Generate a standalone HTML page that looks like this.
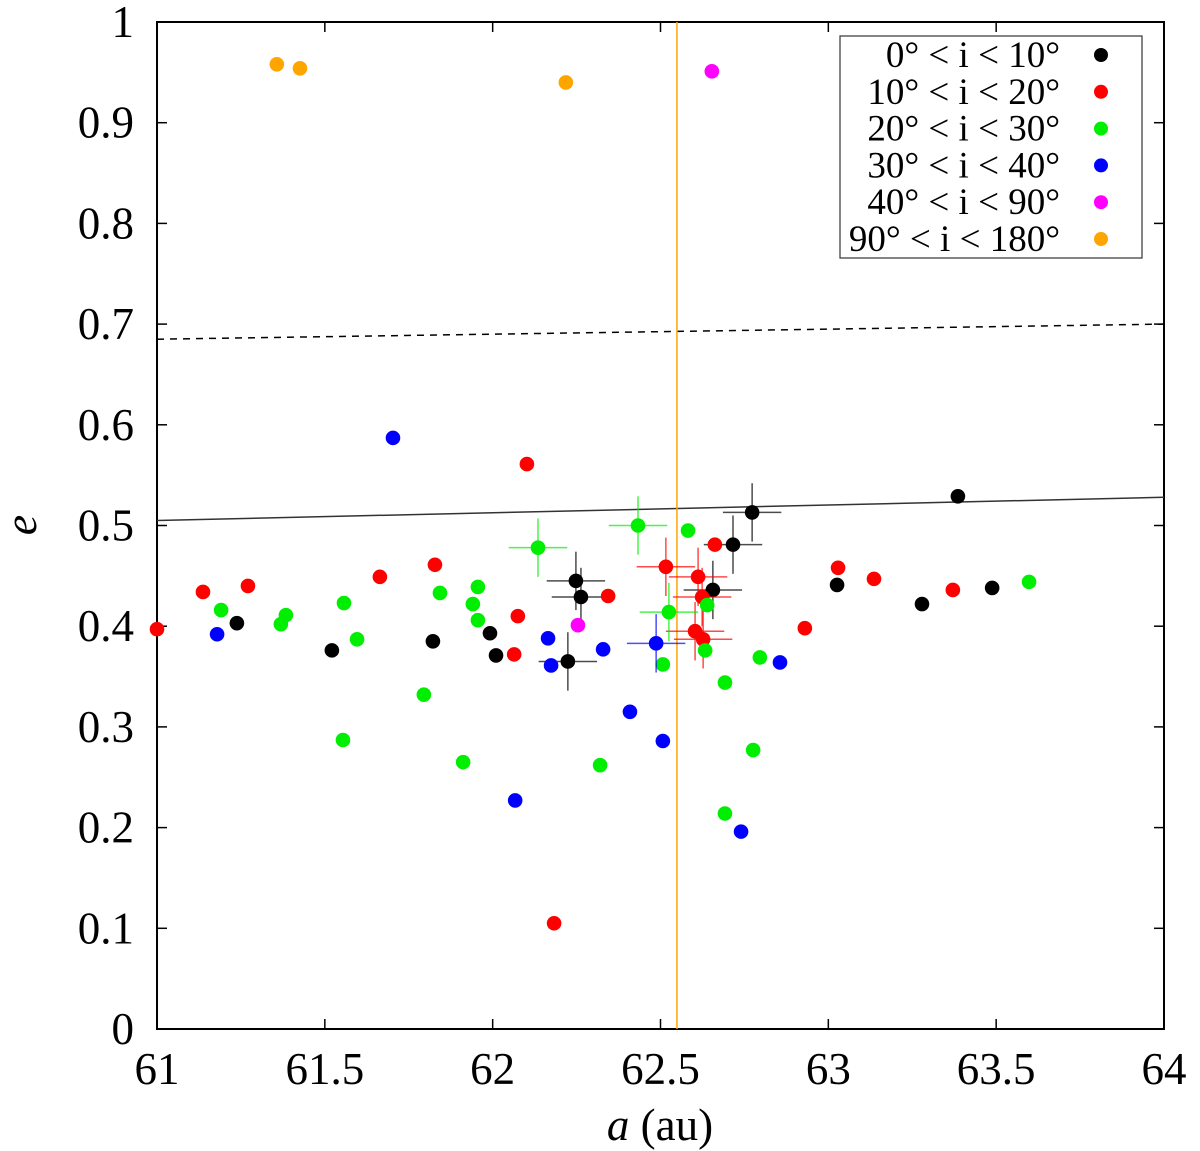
<!DOCTYPE html>
<html><head><meta charset="utf-8"><style>
body{margin:0;background:#fff}
svg{display:block;font-family:"Liberation Serif",serif}
</style></head><body>
<svg id="chart" width="1200" height="1151">
<rect width="1200" height="1151" fill="#fff"/>
<g id="grid"></g>
<g id="marks"></g>
<g id="legend"></g>
</svg>
<script>
const xTicks=[61,61.5,62,62.5,63,63.5,64];
const xTickLabels=["61","61.5","62","62.5","63","63.5","64"];
const yTicks=[0,0.1,0.2,0.3,0.4,0.5,0.6,0.7,0.8,0.9,1];
const yTickLabels=["0","0.1","0.2","0.3","0.4","0.5","0.6","0.7","0.8","0.9","1"];
const seriesNames=["0° < i < 10°","10° < i < 20°","20° < i < 30°","30° < i < 40°","40° < i < 90°","90° < i < 180°"];
const seriesColors=["#000000","#ff0000","#00ee00","#0000ff","#ff00ff","#ffa500"];
const blackA=[61.238,61.521,61.822,61.992,62.010,62.248,62.263,62.224,62.656,62.716,62.773,63.026,63.279,63.386,63.488];
const blackE=[0.403,0.376,0.385,0.393,0.371,0.445,0.429,0.365,0.436,0.481,0.513,0.441,0.422,0.529,0.438];
const blackErr=[0,0,0,0,0,1,1,1,1,1,1,0,0,0,0];
const redA=[61.000,61.137,61.271,61.664,61.828,62.064,62.075,62.102,62.344,62.183,62.516,62.612,62.624,62.662,62.603,62.627,62.930,63.029,63.136,63.371];
const redE=[0.397,0.434,0.440,0.449,0.461,0.372,0.410,0.561,0.430,0.105,0.459,0.449,0.429,0.481,0.395,0.387,0.398,0.458,0.447,0.436];
const redErr=[0,0,0,0,0,0,0,0,0,0,1,1,1,0,1,1,0,0,0,0];
const greenA=[61.191,61.369,61.384,61.557,61.554,61.596,61.795,61.843,61.912,61.941,61.956,61.956,62.135,62.320,62.433,62.507,62.525,62.582,62.633,62.639,62.692,62.692,62.776,62.796,63.598];
const greenE=[0.416,0.402,0.411,0.423,0.287,0.387,0.332,0.433,0.265,0.422,0.439,0.406,0.478,0.262,0.500,0.362,0.414,0.495,0.376,0.421,0.344,0.214,0.277,0.369,0.444];
const greenErr=[0,0,0,0,0,0,0,0,0,0,0,0,1,0,1,0,1,0,0,0,0,0,0,0,0];
const blueA=[61.179,61.703,62.067,62.165,62.174,62.329,62.409,62.487,62.507,62.740,62.856];
const blueE=[0.392,0.587,0.227,0.388,0.361,0.377,0.315,0.383,0.286,0.196,0.364];
const blueErr=[0,0,0,0,0,0,0,1,0,0,0];
const magentaA=[62.254,62.653];
const magentaE=[0.401,0.951];
const magentaErr=[0,0];
const orangeA=[61.357,61.426,62.218];
const orangeE=[0.958,0.954,0.940];
const orangeErr=[0,0,0];
const xErrVal=0.087, yErrVal=0.029;
const dashedLineA=[61,64], dashedLineE=[0.685,0.700];
const solidLineA=[61,64], solidLineE=[0.505,0.528];
const resonanceA=62.549;

const X0=157,X1=1164,Y0=1029,Y1=22;
const sx=a=>X0+(a-61)/3*(X1-X0);
const sy=e=>Y0-e*(Y0-Y1);
const NS="http://www.w3.org/2000/svg";
function mk(tag,attrs,parent){const el=document.createElementNS(NS,tag);for(const k in attrs)el.setAttribute(k,attrs[k]);parent.appendChild(el);return el;}
const grid=document.getElementById('grid'),marks=document.getElementById('marks'),leg=document.getElementById('legend');

xTicks.forEach((t,i)=>{
 const x=sx(t);
 let l=mk('line',{x1:x,x2:x,y1:Y0,y2:Y0-10,stroke:'#000','stroke-width':1.5},grid);
 
 
 l=mk('line',{x1:x,x2:x,y1:Y1,y2:Y1+10,stroke:'#000','stroke-width':1.5},grid);
 
 
 const tx=mk('text',{x:x,y:1084,'font-size':45,'text-anchor':'middle'},grid);
 tx.textContent=xTickLabels[i];
 
 
});
yTicks.forEach((t,i)=>{
 const y=sy(t);
 let l=mk('line',{x1:X0,x2:X0+10,y1:y,y2:y,stroke:'#000','stroke-width':1.5},grid);
 
 
 l=mk('line',{x1:X1,x2:X1-10,y1:y,y2:y,stroke:'#000','stroke-width':1.5},grid);
 
 
 const tx=mk('text',{x:134,y:y+15,'font-size':45,'text-anchor':'end'},grid);
 tx.textContent=yTickLabels[i];
 
 
});
let fr=mk('rect',{x:X0,y:Y1,width:X1-X0,height:Y0-Y1,fill:'none',stroke:'#000','stroke-width':2},grid);


let xt=mk('text',{x:660,y:1140,'font-size':45,'text-anchor':'middle'},grid);
xt.innerHTML='<tspan font-style="italic">a</tspan> (au)';


let yt=mk('text',{x:0,y:0,'font-size':46,'font-style':'italic','text-anchor':'middle',transform:'translate(36,525) rotate(-90)'},grid);
yt.textContent='e';



let dl=mk('line',{x1:sx(dashedLineA[0]),x2:sx(dashedLineA[1]),y1:sy(dashedLineE[0]),y2:sy(dashedLineE[1]),stroke:'#000','stroke-width':1.5,'stroke-dasharray':'7,6'},marks);


let sl=mk('line',{x1:sx(solidLineA[0]),x2:sx(solidLineA[1]),y1:sy(solidLineE[0]),y2:sy(solidLineE[1]),stroke:'#333','stroke-width':1.5},marks);


let vl=mk('line',{x1:sx(resonanceA),x2:sx(resonanceA),y1:Y1,y2:Y0,stroke:'#ffa500','stroke-width':1.5},marks);



const series=[[blackA,blackE,blackErr],[redA,redE,redErr],[greenA,greenE,greenErr],[blueA,blueE,blueErr],[magentaA,magentaE,magentaErr],[orangeA,orangeE,orangeErr]];
series.forEach((s,si)=>{
 const c=seriesColors[si];
 s[0].forEach((a,i)=>{
  const x=sx(a),y=sy(s[1][i]);
  if(s[2][i]){
   let h=mk('line',{x1:sx(a-xErrVal),x2:sx(a+xErrVal),y1:y,y2:y,stroke:c,'stroke-width':1.5,opacity:0.7},marks);
   
   
   let v=mk('line',{x1:x,x2:x,y1:sy(s[1][i]-yErrVal),y2:sy(s[1][i]+yErrVal),stroke:c,'stroke-width':1.5,opacity:0.7},marks);
   
   
  }
  const p=mk('circle',{cx:x,cy:y,r:7.3,fill:c},marks);
  
  
 });
});

let lb=mk('rect',{x:840,y:36,width:302,height:222,fill:'#fff',stroke:'#333','stroke-width':1.2},leg);


seriesNames.forEach((n,i)=>{
 const y=55+i*36.8;
 const t=mk('text',{x:1060,y:y+12,'font-size':37,'text-anchor':'end'},leg);
 t.textContent=n;
 
 
 const m=mk('circle',{cx:1101,cy:y,r:7,fill:seriesColors[i]},leg);
 
 
});
</script>
</body></html>
